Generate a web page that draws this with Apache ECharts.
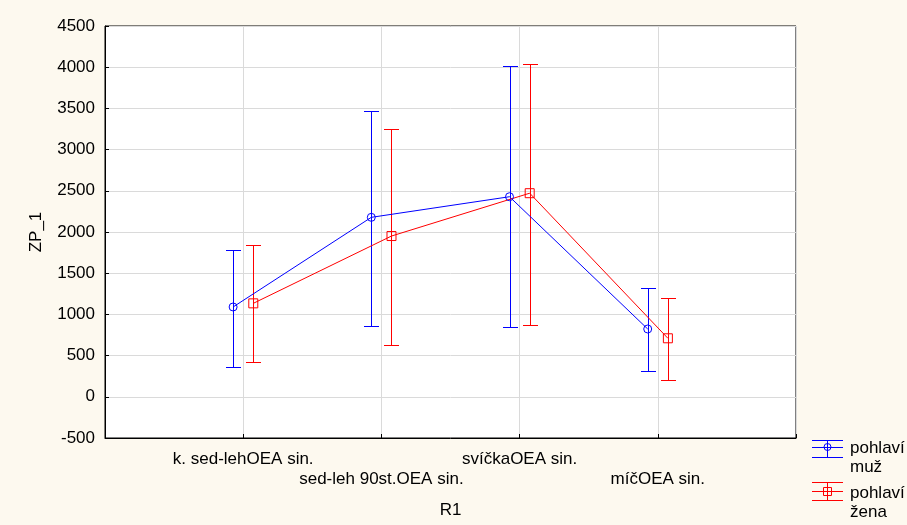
<!DOCTYPE html>
<html>
<head>
<meta charset="utf-8">
<script src="https://cdn.jsdelivr.net/npm/echarts@6/dist/echarts.min.js"></script>
<style>
  html, body { margin: 0; padding: 0; background: #fdf9ef; }
  #chart { width: 907px; height: 525px; }
</style>
</head>
<body>
<div id="chart"></div>
<script>
// ---- data ----
const categories = ['k. sed-lehOEA sin.', 'sed-leh 90st.OEA sin.', 'svíčkaOEA sin.', 'míčOEA sin.'];
const seriesNames = ['pohlaví muž', 'pohlaví žena'];
const legendLabels = ['pohlaví\nmuž', 'pohlaví\nžena'];
const muzMean = [1090, 2178, 2428, 823];
const muzLow  = [365, 859, 851, 313];
const muzHigh = [1782, 3472, 4011, 1324];
const zenaMean = [1134, 1951, 2471, 710];
const zenaLow  = [422, 632, 871, 200];
const zenaHigh = [1842, 3246, 4035, 1199];
const yMin = -500, yMax = 4500, yStep = 500;
const yAxisName = 'ZP_1';
const xAxisName = 'R1';

// ---- style ----
const FONT = "'Liberation Sans', Arial, sans-serif";
const BLUE = '#0000ff';
const RED = '#ff0000';
const OFFSET = 0.073;

function meanData(vals, off) { return vals.map((v, i) => [i + 1 + off, v]); }
function errData(lo, hi, off) { return lo.map((v, i) => [i + 1 + off, v, hi[i]]); }

// 1px filled rectangles for crisp segments
function vbar(x, y1, y2, color) {
  return { type: 'rect', shape: { x: x, y: y1, width: 1, height: y2 - y1 + 1 },
           style: { fill: color } };
}
function hbar(x1, x2, y, color) {
  return { type: 'rect', shape: { x: x1, y: y, width: x2 - x1 + 1, height: 1 },
           style: { fill: color } };
}

function errRender(color) {
  return function (params, api) {
    const x = api.value(0);
    const pLo = api.coord([x, api.value(1)]);
    const pHi = api.coord([x, api.value(2)]);
    const cx = Math.round(pLo[0]);
    const yl = Math.round(pLo[1]);
    const yh = Math.round(pHi[1]);
    const hw = 7;
    return {
      type: 'group',
      children: [
        vbar(cx, yh, yl, color),
        hbar(cx - hw, cx + hw, yh, color),
        hbar(cx - hw, cx + hw, yl, color)
      ]
    };
  };
}

function legendIcon(color, cy, top, bottom) {
  return [
    hbar(812, 842, top, color),
    hbar(812, 842, cy, color),
    hbar(812, 842, bottom, color),
    vbar(827, top, bottom, color)
  ];
}

const chart = echarts.init(document.getElementById('chart'));
const option = {
  backgroundColor: '#fdf9ef',
  animation: false,
  textStyle: { fontFamily: FONT },
  grid: {
    left: 105, right: 111, top: 26, bottom: 87,
    show: true, backgroundColor: '#ffffff', borderColor: '#000000', borderWidth: 1
  },
  xAxis: {
    type: 'value', min: 0, max: 5, interval: 1,
    name: xAxisName, nameLocation: 'middle', nameGap: 64,
    nameTextStyle: { fontFamily: FONT, fontSize: 17, color: '#000' },
    axisLine: { show: true, onZero: false, lineStyle: { color: '#000' } },
    axisTick: { show: true, inside: true, length: 4, lineStyle: { color: '#000' } },
    splitLine: { show: true, lineStyle: { color: '#dadada', width: 1 } },
    axisLabel: {
      fontFamily: FONT, fontSize: 17, color: '#000', margin: 11, lineHeight: 20,
      showMinLabel: true, showMaxLabel: true,
      formatter: function (v) {
        const i = Math.round(v) - 1;
        if (i < 0 || i >= categories.length) return '';
        return i % 2 === 0 ? categories[i] : '\n' + categories[i];
      }
    }
  },
  yAxis: {
    type: 'value', min: yMin, max: yMax, interval: yStep,
    name: yAxisName, nameLocation: 'middle', nameGap: 60,
    nameTextStyle: { fontFamily: FONT, fontSize: 17, color: '#000' },
    axisLine: { show: true, onZero: false, lineStyle: { color: '#000' } },
    axisTick: { show: true, inside: true, length: 4, lineStyle: { color: '#000' } },
    splitLine: { show: true, lineStyle: { color: '#dadada', width: 1 } },
    axisLabel: {
      fontFamily: FONT, fontSize: 17, color: '#000', margin: 10,
      formatter: function (v) { return String(v); }
    }
  },
  series: [
    {
      name: seriesNames[0] + ' err', type: 'custom', z: 2,
      renderItem: errRender(BLUE),
      encode: { x: 0, y: [1, 2] },
      data: errData(muzLow, muzHigh, -OFFSET)
    },
    {
      name: seriesNames[1] + ' err', type: 'custom', z: 2,
      renderItem: errRender(RED),
      encode: { x: 0, y: [1, 2] },
      data: errData(zenaLow, zenaHigh, OFFSET)
    },
    {
      name: seriesNames[0], type: 'line', z: 3,
      data: meanData(muzMean, -OFFSET),
      symbol: 'circle', symbolSize: 8,
      lineStyle: { color: BLUE, width: 1 },
      itemStyle: { color: 'rgba(0,0,0,0)', borderColor: BLUE, borderWidth: 1 }
    },
    {
      name: seriesNames[1], type: 'line', z: 3,
      data: meanData(zenaMean, OFFSET),
      symbol: 'rect', symbolSize: 9,
      lineStyle: { color: RED, width: 1 },
      itemStyle: { color: 'rgba(0,0,0,0)', borderColor: RED, borderWidth: 1 }
    }
  ],
  graphic: [].concat(
    legendIcon(BLUE, 447, 440, 457),
    [{ type: 'circle', shape: { cx: 827.5, cy: 447, r: 3.5 }, style: { fill: 'rgba(0,0,0,0)', stroke: BLUE, lineWidth: 1 } },
     { type: 'text', left: 850, top: 439, style: { text: legendLabels[0], font: '17px ' + FONT, lineHeight: 19, fill: '#000' } }],
    legendIcon(RED, 491, 482, 500),
    [{ type: 'rect', shape: { x: 823.5, y: 487.5, width: 8, height: 8 }, style: { fill: 'rgba(0,0,0,0)', stroke: RED, lineWidth: 1 } },
     { type: 'text', left: 850, top: 484, style: { text: legendLabels[1], font: '17px ' + FONT, lineHeight: 19, fill: '#000' } }]
  )
};
chart.setOption(option);
</script>
</body>
</html>
